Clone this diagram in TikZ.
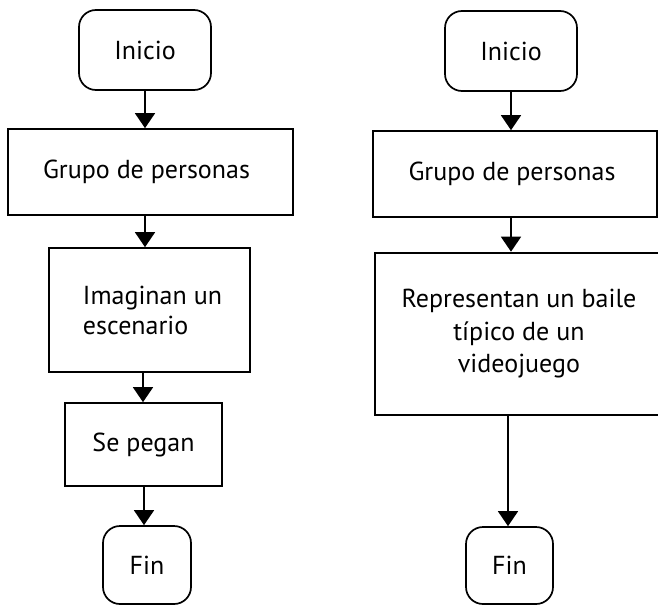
\documentclass[tikz,border=0pt]{standalone}
\usepackage{fontspec}
\setmainfont{PT Sans}
\usetikzlibrary{arrows.meta}
\begin{document}
\begin{tikzpicture}[x=1pt,y=-1pt,
  every node/.style={font=\fontsize{26}{30}\selectfont, inner sep=0pt, line width=1.7pt},
  term/.style={draw, rounded corners=17pt},
  proc/.style={draw},
  flow/.style={line width=1.6pt, -{Triangle[width=20pt,length=15pt]}}]
\useasboundingbox (0,0) rectangle (658,605);
% left column
\node[term, minimum width=132pt, minimum height=80pt] (ini1) at (145,50) {Inicio};
\node[proc, minimum width=285pt, minimum height=86pt] (gr1) at (150.5,172) {Grupo de personas\hspace*{8pt}};
\node[proc, minimum width=201pt, minimum height=124pt, align=left] (im1) at (149.5,310) {\hspace*{6pt}Imaginan un\\\hspace*{6pt}escenario};
\node[proc, minimum width=157pt, minimum height=83pt] (sp1) at (143.5,444.5) {Se pegan};
\node[term, minimum width=88pt, minimum height=78pt] (fin1) at (147,565) {Fin};
% right column
\node[term, minimum width=132pt, minimum height=80pt] (ini2) at (511,51) {Inicio};
\node[proc, minimum width=284pt, minimum height=86pt] (gr2) at (515,174) {Grupo de personas\hspace*{6pt}};
\node[proc, line width=2.6pt, minimum width=288pt, minimum height=162pt, align=center, font=\fontsize{26}{32.5}\selectfont] (rep2) at (519,334) {Representan un baile\\típico de un\\videojuego};
\node[term, minimum width=87pt, minimum height=77pt] (fin2) at (509.5,565.5) {Fin};
% connectors
\draw[flow] (ini1.south) -- (ini1.south |- gr1.north);
\draw[flow] (gr1.south -| 145,0) -- (145,0 |- im1.north);
\draw[flow] (im1.south -| 143,0) -- (143,0 |- sp1.north);
\draw[flow] (sp1.south -| 144,0) -- (144,0 |- fin1.north);
\draw[flow] (ini2.south) -- (ini2.south |- gr2.north);
\draw[flow] (gr2.south -| 511,0) -- (511,0 |- rep2.north);
\draw[flow] (rep2.south -| 508,0) -- (508,0 |- fin2.north);
\end{tikzpicture}
\end{document}
